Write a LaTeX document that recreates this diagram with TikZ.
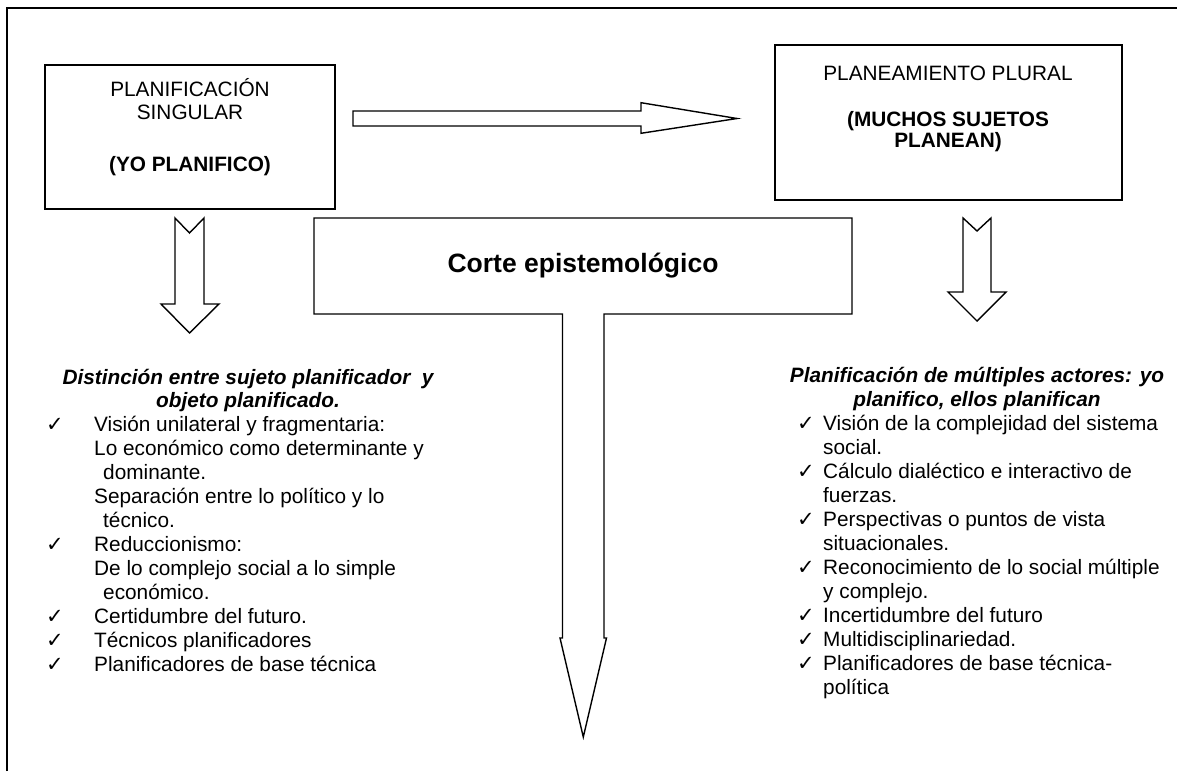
\documentclass[tikz,border=0pt]{standalone}
\usepackage{fontspec}
\setmainfont{Liberation Sans}
\newfontfamily\symfont{DejaVu Sans}
\begin{document}
\begin{tikzpicture}[x=1pt,y=-1pt]
\tikzset{
  frameline/.style={line width=1.7pt},
  box/.style={draw, line width=1.7pt, inner sep=0pt},
  blockarrow/.style={draw, line width=1.4pt, line join=miter, fill=white},
  txt/.style={font=\fontsize{20.8}{24}\selectfont, inner sep=0pt, anchor=base},
  txtl/.style={txt, anchor=base west},
  head/.style={txt, font=\fontsize{20.8}{24}\selectfont\bfseries\itshape},
  title/.style={txt, font=\fontsize{26.5}{30}\selectfont\bfseries},
  chk/.style={font=\symfont\fontsize{21}{24}\selectfont, inner sep=0pt, anchor=base west}
}
\useasboundingbox (0,0) rectangle (1177,771);
% outer frame
\draw[frameline] (7,771) -- (7,8) -- (1177,8);

% boxes
\node[box, minimum width=290pt, minimum height=144pt] (lbox) at (190,137) {};
\node[box, minimum width=347pt, minimum height=155pt] (rbox) at (948.5,122.5) {};

\node[txt] (l1) at (190,96.5) {PLANIFICACIÓN};
\node[txt] (l2) at (190,119.5) {SINGULAR};
\node[txt, font=\fontsize{20.8}{24}\selectfont\bfseries] (l3) at (190,171.5) {(YO PLANIFICO)};

\node[txt] (r1) at (948,80.5) {PLANEAMIENTO PLURAL};
\node[txt, font=\fontsize{20.8}{24}\selectfont\bfseries] (r2) at (948,126.5) {(MUCHOS SUJETOS};
\node[txt, font=\fontsize{20.8}{24}\selectfont\bfseries] (r3) at (948,147.5) {PLANEAN)};

% horizontal block arrow
\draw[blockarrow] (353,111) -- (641,111) -- (641,102.7) -- (737,118.5) -- (641,133.3) -- (641,126) -- (353,126) -- cycle;

% left down arrow
\draw[blockarrow] (175,218) -- (189.5,233) -- (204,218) -- (204,304) -- (219,304) -- (189.5,333) -- (161,304) -- (175,304) -- cycle;
% right down arrow
\draw[blockarrow] (963,218) -- (977,231) -- (991,218) -- (991,292) -- (1006,292) -- (977,321) -- (948,292) -- (963,292) -- cycle;

% corte shape
\draw[blockarrow] (314,218) -- (852,218) -- (852,314) -- (604,314) -- (604,638) -- (606.5,638) -- (583.3,737) -- (560,638) -- (562.5,638) -- (562.5,314) -- (314,314) -- cycle;
\node[title] (corte) at (583,272.5) {Corte epistemológico};

% left list
\node[head] (lh1) at (248,384) {Distinción entre sujeto planificador\ \ y};
\node[head] (lh2) at (248,407) {objeto planificado.};
\node[chk] (lc1) at (46,431) {✓};
\node[txtl] (lt1) at (94,431) {Visión unilateral y fragmentaria:};
\node[txtl] (lt2) at (94,455) {Lo económico como determinante y};
\node[txtl] (lt3) at (103,479) {dominante.};
\node[txtl] (lt4) at (94,503) {Separación entre lo político y lo};
\node[txtl] (lt5) at (103,527) {técnico.};
\node[chk] (lc2) at (46,551) {✓};
\node[txtl] (lt6) at (94,551) {Reduccionismo:};
\node[txtl] (lt7) at (94,575) {De lo complejo social a lo simple};
\node[txtl] (lt8) at (103,599) {económico.};
\node[chk] (lc3) at (46,623) {✓};
\node[txtl] (lt9) at (94,623) {Certidumbre del futuro.};
\node[chk] (lc4) at (46,647) {✓};
\node[txtl] (lt10) at (94,647) {Técnicos planificadores};
\node[chk] (lc5) at (46,671) {✓};
\node[txtl] (lt11) at (94,671) {Planificadores de base técnica};

% right list
\node[head] (rh1) at (977,382) {Planificación de múltiples actores: yo};
\node[head] (rh2) at (977,406) {planifico, ellos planifican};
\node[chk] (rc1) at (797,430) {✓};
\node[txtl] (rt1) at (823,430) {Visión de la complejidad del sistema};
\node[txtl] (rt2) at (823,454) {social.};
\node[chk] (rc2) at (797,478) {✓};
\node[txtl] (rt3) at (823,478) {Cálculo dialéctico e interactivo de};
\node[txtl] (rt4) at (823,502) {fuerzas.};
\node[chk] (rc3) at (797,526) {✓};
\node[txtl] (rt5) at (823,526) {Perspectivas o puntos de vista};
\node[txtl] (rt6) at (823,550) {situacionales.};
\node[chk] (rc4) at (797,574) {✓};
\node[txtl] (rt7) at (823,574) {Reconocimiento de lo social múltiple};
\node[txtl] (rt8) at (823,598) {y complejo.};
\node[chk] (rc5) at (797,622) {✓};
\node[txtl] (rt9) at (823,622) {Incertidumbre del futuro};
\node[chk] (rc6) at (797,646) {✓};
\node[txtl] (rt10) at (823,646) {Multidisciplinariedad.};
\node[chk] (rc7) at (797,670) {✓};
\node[txtl] (rt11) at (823,670) {Planificadores de base técnica-};
\node[txtl] (rt12) at (823,694) {política};
\end{tikzpicture}
\end{document}
